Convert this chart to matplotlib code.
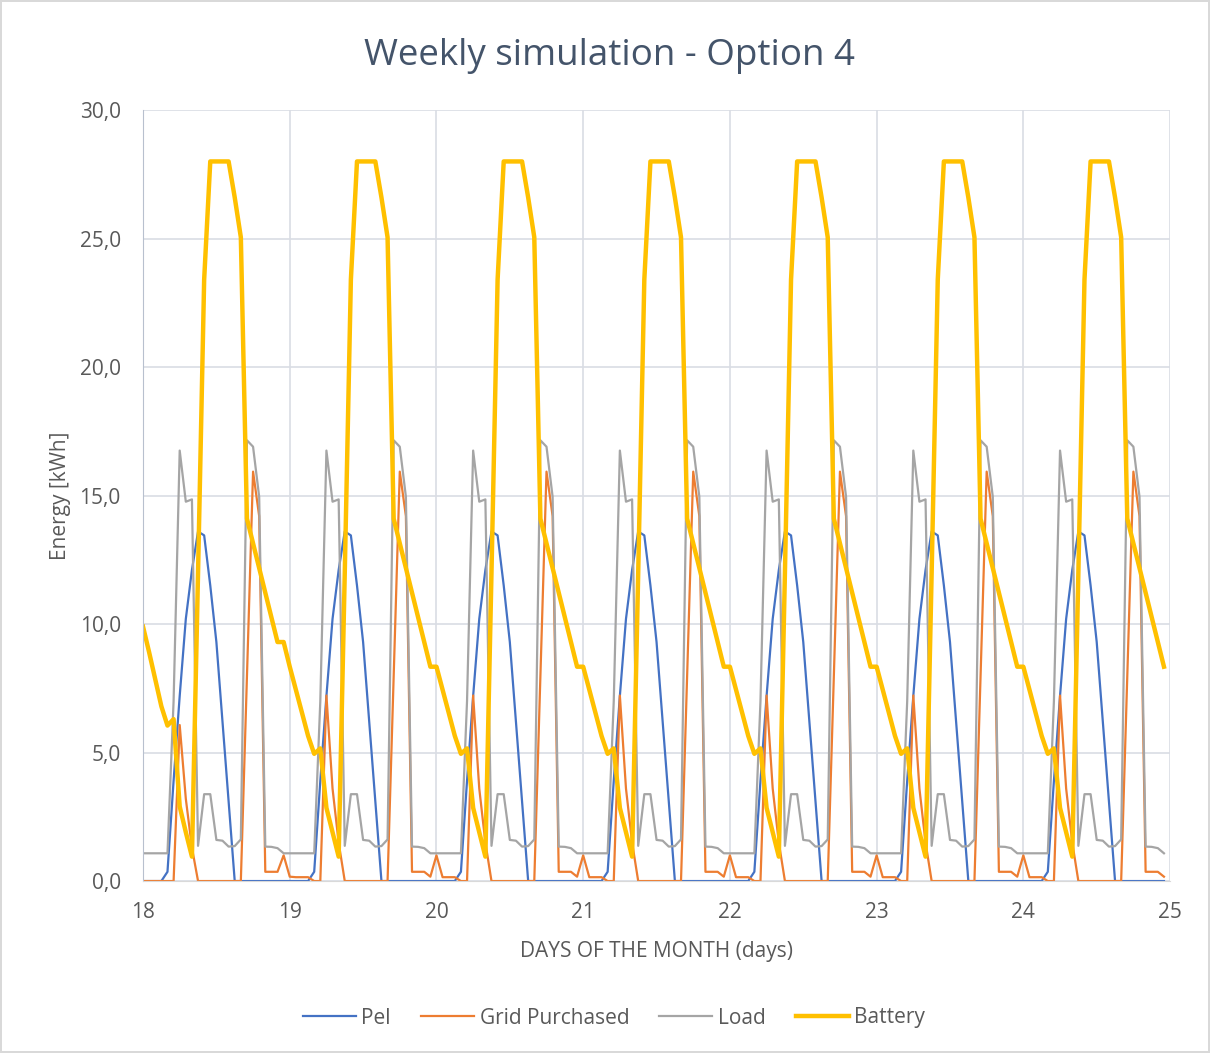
import numpy as np
import matplotlib.pyplot as plt
from matplotlib.ticker import FuncFormatter, MultipleLocator

plt.rcParams['font.family'] = ['Open Sans', 'DejaVu Sans']

# hourly values (kWh), one list per day profile
first_day = 18
n_days = 7

pel_day = [0, 0, 0, 0, 0.36, 3.9, 7.2, 10.2, 12.1, 13.6, 13.45, 11.5,
           9.3, 6.2, 3.1, 0, 0, 0, 0, 0, 0, 0, 0, 0]

grid_day18 = [0, 0, 0, 0, 0, 0, 6.07, 3.2, 1.3, 0, 0, 0,
              0, 0, 0, 0, 0, 8.0, 15.93, 14.2, 0.36, 0.36, 0.36, 1.0]
grid_day19 = [0.17, 0.15, 0.15, 0.15, 0, 0, 7.22, 3.6, 1.5, 0, 0, 0,
              0, 0, 0, 0, 0, 8.0, 15.93, 14.2, 0.36, 0.36, 0.36, 0.17]
grid_day = [1.0, 0.15, 0.15, 0.15, 0, 0, 7.22, 3.6, 1.5, 0, 0, 0,
            0, 0, 0, 0, 0, 8.0, 15.93, 14.2, 0.36, 0.36, 0.36, 0.17]

load_day = [1.08, 1.08, 1.08, 1.08, 1.08, 7.0, 16.75, 14.76, 14.85, 1.37, 3.38, 3.38,
            1.6, 1.57, 1.34, 1.36, 1.62, 17.15, 16.9, 14.95, 1.34, 1.33, 1.28, 1.08]

battery_day18 = [9.9, 8.9, 7.85, 6.8, 6.05, 6.3, 2.9, 1.9, 0.95, 12.0, 23.4, 28.0,
                 28.0, 28.0, 28.0, 26.6, 25.05, 14.1, 13.14, 12.18, 11.22, 10.26, 9.3, 9.3]
battery_day = [8.34, 7.45, 6.55, 5.65, 4.95, 5.16, 2.85, 1.9, 0.95, 12.0, 23.4, 28.0,
               28.0, 28.0, 28.0, 26.6, 25.05, 14.1, 13.14, 12.18, 11.22, 10.26, 9.3, 8.34]

pel = np.array(pel_day * n_days)
grid = np.array(grid_day18 + grid_day19 + grid_day * (n_days - 2))
load = np.array(load_day * n_days)
battery = np.array(battery_day18 + battery_day * (n_days - 1))
days = first_day + np.arange(24 * n_days) / 24

txt = '#595959'

fig = plt.figure(figsize=(12.1, 10.53), dpi=100)
fig.patch.set_edgecolor('#D9D9D9')
fig.patch.set_linewidth(1.5)
ax = fig.add_axes([0.1182, 0.1633, 0.8488, 0.7322])

ax.plot(days, pel, color='#4472C4', lw=1.6, label='Pel')
ax.plot(days, grid, color='#ED7D31', lw=1.6, label='Grid Purchased')
ax.plot(days, load, color='#A5A5A5', lw=1.6, label='Load')
ax.plot(days, battery, color='#FFC000', lw=3.2, label='Battery')

ax.set_xlim(18, 25)
ax.set_ylim(0, 30)
ax.xaxis.set_major_locator(MultipleLocator(1))
ax.yaxis.set_major_locator(MultipleLocator(5))
ax.yaxis.set_major_formatter(FuncFormatter(lambda v, p: f'{v:.1f}'.replace('.', ',')))
ax.grid(True, color='#D9DDE4', lw=1.2)
ax.set_axisbelow(True)
for s in ['top', 'right']:
    ax.spines[s].set_visible(False)
ax.spines['left'].set_color('#B8C0CE')
ax.spines['bottom'].set_color('#D9D9D9')
ax.tick_params(length=0, labelsize=15, colors=txt)
ax.tick_params(axis='y', pad=16)
ax.tick_params(axis='x', pad=15)

fig.text(0.504, 0.947, 'Weekly simulation - Option 4', fontsize=26.5, color='#44546A',
         ha='center', va='center')
ax.set_xlabel('DAYS OF THE MONTH (days)', fontsize=15, color=txt, labelpad=13)
ax.set_ylabel('Energy [kWh]', fontsize=15, color=txt, labelpad=6)

leg = fig.legend(loc='center', bbox_to_anchor=(614 / 1210, 1 - 1018 / 1053), ncol=4,
                 frameon=False, fontsize=15, handlelength=2.55, handletextpad=0.25,
                 columnspacing=1.45)
for t in leg.get_texts():
    t.set_color(txt)

fig.savefig('out.png', dpi=100, edgecolor=fig.get_edgecolor())
